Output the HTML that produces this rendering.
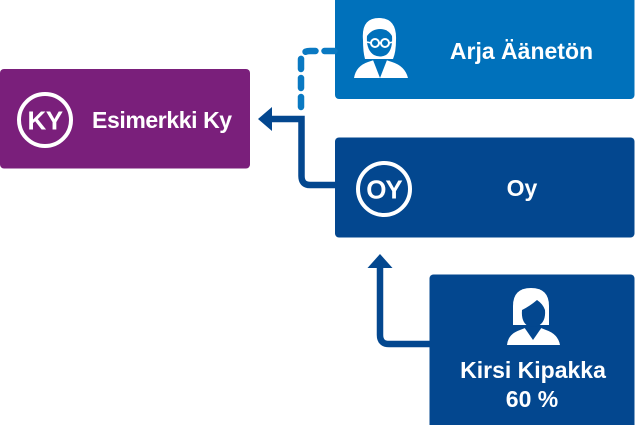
<!DOCTYPE html>
<html><head><meta charset="utf-8">
<style>
html,body{margin:0;padding:0;background:#fff;}
svg{display:block;}
text{font-family:"Liberation Sans",sans-serif;font-weight:bold;fill:#fff;}
</style></head>
<body>
<svg width="635" height="425" viewBox="0 0 635 425" xmlns="http://www.w3.org/2000/svg">
  <!-- Boxes -->
  <rect x="0" y="69" width="250" height="99.5" rx="4" fill="#7a1f7b"/>
  <rect x="335" y="-5" width="299.5" height="104" rx="4" fill="#0071bb"/>
  <rect x="335" y="137.5" width="299.5" height="100" rx="4" fill="#03478f"/>
  <rect x="429.5" y="274.5" width="205" height="155" rx="4" fill="#03478f"/>

  <!-- Dashed connector -->
  <path d="M301 107 V60 Q301 51 310 51 H335" fill="none" stroke="#0a79c2" stroke-width="6.5" stroke-linecap="round" stroke-dasharray="10 9"/>

  <!-- Solid connector to Esimerkki Ky -->
  <path d="M335 185 H310 Q301.5 185 301.5 176 V119 H271" fill="none" stroke="#03478f" stroke-width="6.5"/>
  <polygon points="258,119 272,107 272,131" fill="#03478f"/>

  <!-- Kirsi connector -->
  <path d="M430 344 H389 Q380 344 380 335 V267" fill="none" stroke="#03478f" stroke-width="6.5"/>
  <polygon points="380,254 367.5,268 392.5,268" fill="#03478f"/>

  <!-- KY circle -->
  <circle cx="45" cy="120" r="26" fill="none" stroke="#fff" stroke-width="4"/>
  <text x="45" y="129.5" font-size="26" text-anchor="middle" letter-spacing="-0.5">KY</text>
  <text x="92" y="128" font-size="23" letter-spacing="-0.4">Esimerkki Ky</text>

  <!-- OY circle -->
  <circle cx="384" cy="189" r="26" fill="none" stroke="#fff" stroke-width="4"/>
  <text x="384" y="198.5" font-size="26" text-anchor="middle" letter-spacing="-1">OY</text>
  <text x="522" y="196" font-size="23" text-anchor="middle">Oy</text>

  <!-- Arja -->
  <text x="521.5" y="59" font-size="23" text-anchor="middle">Arja Äänetön</text>
  <g>
    <!-- hair -->
    <path d="M363 40 Q361 18 379 18 Q397 18 396 40 Q396 52 393 59 L365 59 Q363 52 363 40 Z" fill="#fff"/>
    <!-- face -->
    <path d="M367 36 Q372 29 380 29 Q388 29 392 36 Q393 50 386 55 Q380 58 374 55 Q366 50 367 36 Z" fill="#0071bb"/>
    <!-- glasses -->
    <circle cx="375" cy="43" r="4" fill="none" stroke="#fff" stroke-width="2"/>
    <circle cx="385" cy="43" r="4" fill="none" stroke="#fff" stroke-width="2"/>
    <line x1="379" y1="43" x2="381" y2="43" stroke="#fff" stroke-width="2"/>
    <line x1="367" y1="42" x2="371" y2="43" stroke="#fff" stroke-width="1.5"/>
    <line x1="389" y1="43" x2="393" y2="42" stroke="#fff" stroke-width="1.5"/>
    <!-- body -->
    <path d="M354 78 Q356 66 368 62 L374 60 L380 70 L386 60 L392 62 Q405 66 408 78 Z" fill="#fff"/>
    <path d="M373 60 L380 78 L387 60 Z" fill="#0071bb"/>
  </g>

  <!-- Kirsi -->
  <text x="533" y="378" font-size="23" text-anchor="middle">Kirsi Kipakka</text>
  <text x="532" y="407" font-size="23" text-anchor="middle">60 %</text>
  <g>
    <path d="M513 306 Q513 288 531 288 Q549 288 549 306 L549 325 L513 325 Z" fill="#fff"/>
    <path d="M522 310 Q530 306 537 300 Q543 304 545 310 Q546 322 538 326 Q533 328 528 326 Q521 322 522 310 Z" fill="#03478f"/>
    <path d="M507 345 Q508 334 520 330 L525 328 L533 337 L541 328 L546 330 Q558 334 560 345 Z" fill="#fff"/>
    <path d="M524 327 L533 340 L542 327 Z" fill="#03478f"/>
  </g>
</svg>
</body></html>
